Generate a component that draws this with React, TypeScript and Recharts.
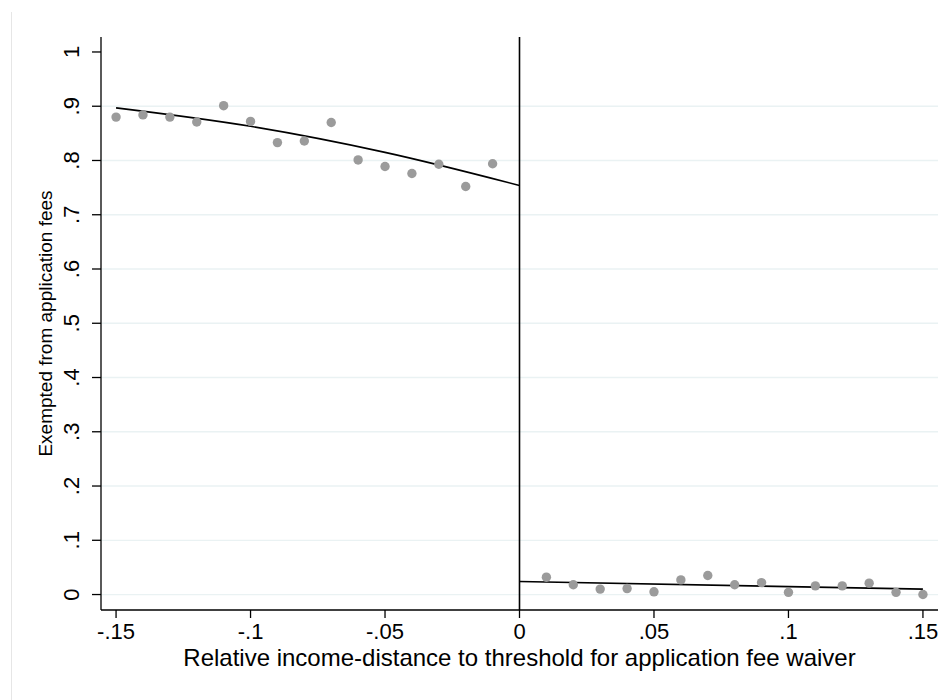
import { ComposedChart, Scatter, Line, XAxis, YAxis, CartesianGrid, ReferenceLine } from 'recharts';

// binned means, left and right of the threshold
const leftX = [-0.15, -0.14, -0.13, -0.12, -0.11, -0.1, -0.09, -0.08, -0.07, -0.06, -0.05, -0.04, -0.03, -0.02, -0.01];
const leftY = [0.880, 0.884, 0.880, 0.871, 0.901, 0.872, 0.833, 0.836, 0.870, 0.801, 0.789, 0.776, 0.793, 0.752, 0.794];
const rightX = [0.01, 0.02, 0.03, 0.04, 0.05, 0.06, 0.07, 0.08, 0.09, 0.1, 0.11, 0.12, 0.13, 0.14, 0.15];
const rightY = [0.032, 0.018, 0.010, 0.011, 0.005, 0.027, 0.035, 0.018, 0.022, 0.004, 0.016, 0.016, 0.021, 0.004, 0.000];

// fitted lines
const fitLeftX = [-0.15, -0.1, -0.05, 0];
const fitLeftY = [0.897, 0.863, 0.815, 0.754];
const fitRightX = [0, 0.15];
const fitRightY = [0.024, 0.010];

const xTicks = [-0.15, -0.1, -0.05, 0, 0.05, 0.1, 0.15];
const yTicks = [0, 0.1, 0.2, 0.3, 0.4, 0.5, 0.6, 0.7, 0.8, 0.9, 1];
const gridValues = [0, 0.1, 0.2, 0.3, 0.4, 0.5, 0.6, 0.7, 0.8, 0.9];

const zip = (xs: number[], ys: number[]) => xs.map((x, i) => ({ x, y: ys[i] }));

const leftPoints = zip(leftX, leftY);
const rightPoints = zip(rightX, rightY);
const leftFit = zip(fitLeftX, fitLeftY);
const rightFit = zip(fitRightX, fitRightY);

const FONT = '"Liberation Sans", Arial, Helvetica, sans-serif';

// stata style: -.15, .05, 0, 1
const fmt = (v: number) => {
    if (Math.abs(v) < 1e-9) return '0';
    if (Math.abs(v - 1) < 1e-9) return '1';
    const s = String(Math.round(v * 100) / 100);
    return s.replace('0.', '.');
};

const Dot = (props: any) => {
    const { cx, cy } = props;
    if (cx == null || cy == null) return null;
    return <circle cx={cx} cy={cy} r={4.7} fill="#9b9b9b" />;
};

const YTick = (props: any) => {
    const { x, y, payload } = props;
    return (
        <text
            x={x}
            y={y}
            transform={`rotate(-90 ${x} ${y})`}
            textAnchor="middle"
            fontSize={22}
            fontFamily={FONT}
            fill="#000"
        >
            {fmt(payload.value)}
        </text>
    );
};

export default function App() {
    return (
        <div style={{ position: 'absolute', left: 0, top: 0, width: 943, height: 700, background: '#fff' }}>
            <div style={{ position: 'absolute', left: 11, top: 12, width: 1, height: 688, background: '#e6e6e6' }} />
            <ComposedChart
                width={943}
                height={700}
                margin={{ top: 37, right: 5, bottom: 30, left: 0 }}
                style={{ fontFamily: FONT }}
            >
                <CartesianGrid vertical={false} horizontalValues={gridValues} stroke="#eaf2f3" strokeWidth={1.3} />
                <XAxis
                    type="number"
                    dataKey="x"
                    domain={[-0.1556, 0.1556]}
                    ticks={xTicks}
                    allowDataOverflow
                    tickFormatter={fmt}
                    height={60}
                    tickSize={8}
                    tickMargin={5}
                    stroke="#000"
                    strokeWidth={1.3}
                    tick={{ fill: '#000', fontSize: 22, fontFamily: FONT }}
                    label={(p: any) => {
                        const vb = p.viewBox || {};
                        return (
                            <text
                                x={(vb.x ?? 101) + (vb.width ?? 837) / 2}
                                y={666}
                                textAnchor="middle"
                                fontSize={24}
                                fontFamily={FONT}
                                fill="#000"
                            >
                                Relative income-distance to threshold for application fee waiver
                            </text>
                        );
                    }}
                />
                <YAxis
                    type="number"
                    dataKey="y"
                    domain={[-0.0285, 1.0276]}
                    ticks={yTicks}
                    allowDataOverflow
                    width={101}
                    tickSize={9}
                    tickMargin={13}
                    stroke="#000"
                    strokeWidth={1.3}
                    tick={<YTick />}
                    label={(p: any) => {
                        const vb = p.viewBox || {};
                        const cy = (vb.y ?? 37) + (vb.height ?? 573) / 2;
                        return (
                            <text
                                x={52}
                                y={cy}
                                transform={`rotate(-90 52 ${cy})`}
                                textAnchor="middle"
                                fontSize={19}
                                fontFamily={FONT}
                                fill="#000"
                            >
                                Exempted from application fees
                            </text>
                        );
                    }}
                />
                <ReferenceLine x={0} stroke="#000" strokeWidth={1.6} ifOverflow="extendDomain" />
                <Scatter data={leftPoints} dataKey="y" shape={<Dot />} isAnimationActive={false} />
                <Scatter data={rightPoints} dataKey="y" shape={<Dot />} isAnimationActive={false} />
                <Line data={leftFit} dataKey="y" type="monotone" stroke="#000" strokeWidth={1.6} dot={false} activeDot={false} isAnimationActive={false} />
                <Line data={rightFit} dataKey="y" type="linear" stroke="#000" strokeWidth={1.6} dot={false} activeDot={false} isAnimationActive={false} />
            </ComposedChart>
        </div>
    );
}
